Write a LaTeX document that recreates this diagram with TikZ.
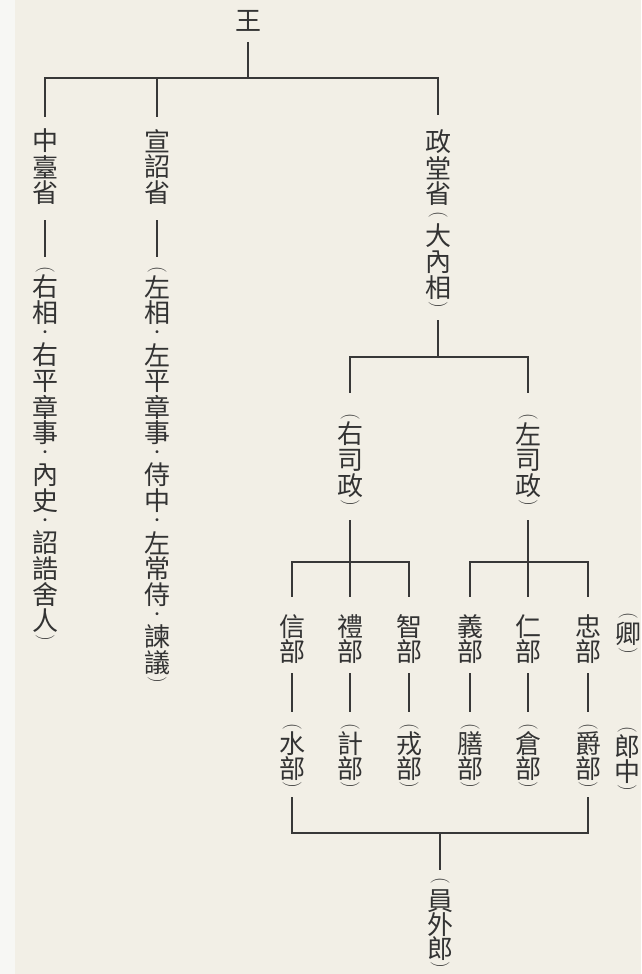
\documentclass[tikz,border=0pt]{standalone}
\usepackage{fontspec}
\newfontfamily\cjk{Noto Sans CJK TC}
\newdimen\slotc
\newcommand\Sl[2]{\hbox to 34pt{\hss\vbox to #1{\vss\hbox{#2}\vss}\hss}}
\newcommand\K[1]{\Sl{\slotc}{#1}}
\newcommand\Pn[1]{\rotatebox{-90}{\normalfont\fontsize{19pt}{19pt}\selectfont #1}}
\newcommand\Dt{\Sl{16pt}{\fontsize{14pt}{14pt}\selectfont ・}}
\newcommand\Ob{\Sl{8pt}{\Pn{(}}}
\newcommand\Obm{\Sl{16pt}{\Pn{(}}}
\newcommand\Cb{\Sl{8pt}{\Pn{)}}}
\newcommand\Vcol[2]{\vbox{\offinterlineskip\slotc=#1\relax #2}}
\definecolor{bg}{HTML}{F2EFE6}
\definecolor{bgl}{HTML}{F7F7F4}
\definecolor{txt}{HTML}{333333}
\definecolor{lnc}{HTML}{383838}
\tikzset{
  col/.style={inner sep=0pt, outer sep=0pt, anchor=north, text=txt,
    font=\cjk\fontsize{26pt}{26pt}\selectfont},
  ln/.style={draw=lnc, line width=1.8pt}
}
\begin{document}
\begin{tikzpicture}[x=1pt,y=-1pt]
\useasboundingbox (0,0) rectangle (641,974);
\fill[bg] (0,0) rectangle (641,974);
\fill[bgl] (0,0) rectangle (15,974);
% nodes
\node[col] (wang) at (248,8) {\Vcol{26pt}{\K{王}}};
\node[col] (zt) at (45,128) {\Vcol{26pt}{\K{中}\K{臺}\K{省}}};
\node[col] (zts) at (45,266) {\Vcol{26pt}{\Ob\K{右}\K{相}\Dt\K{右}\K{平}\K{章}\K{事}\Dt\K{內}\K{史}\Dt\K{詔}\K{誥}\K{舍}\K{人}\Cb}};
\node[col] (xz) at (157,128) {\Vcol{26pt}{\K{宣}\K{詔}\K{省}}};
\node[col] (xzs) at (157,266) {\Vcol{26pt}{\Ob\K{左}\K{相}\Dt\K{左}\K{平}\K{章}\K{事}\Dt\K{侍}\K{中}\Dt\K{左}\K{常}\K{侍}\Dt\K{諫}\K{議}\Cb}};
\node[col] (zd) at (438,129) {\Vcol{26pt}{\K{政}\K{堂}\K{省}\Obm\K{大}\K{內}\K{相}\Cb}};
\node[col] (ys) at (350,413) {\Vcol{26pt}{\Ob\K{右}\K{司}\K{政}\Cb}};
\node[col] (ls) at (528,413) {\Vcol{26pt}{\Ob\K{左}\K{司}\K{政}\Cb}};
\node[col] (xin) at (292,614) {\Vcol{25pt}{\K{信}\K{部}}};
\node[col] (li) at (350,614) {\Vcol{25pt}{\K{禮}\K{部}}};
\node[col] (zhi) at (409,614) {\Vcol{25pt}{\K{智}\K{部}}};
\node[col] (yi) at (470,614) {\Vcol{25pt}{\K{義}\K{部}}};
\node[col] (ren) at (528,614) {\Vcol{25pt}{\K{仁}\K{部}}};
\node[col] (zhong) at (588,614) {\Vcol{25pt}{\K{忠}\K{部}}};
\node[col] (qing) at (628,612) {\Vcol{27pt}{\Ob\K{卿}\Cb}};
\node[col] (shui) at (292,723) {\Vcol{25pt}{\Ob\K{水}\K{部}\Cb}};
\node[col] (ji) at (350,723) {\Vcol{25pt}{\Ob\K{計}\K{部}\Cb}};
\node[col] (rong) at (409,723) {\Vcol{25pt}{\Ob\K{戎}\K{部}\Cb}};
\node[col] (shan) at (470,723) {\Vcol{25pt}{\Ob\K{膳}\K{部}\Cb}};
\node[col] (cang) at (528,723) {\Vcol{25pt}{\Ob\K{倉}\K{部}\Cb}};
\node[col] (jue) at (588,723) {\Vcol{25pt}{\Ob\K{爵}\K{部}\Cb}};
\node[col] (lang) at (627,726) {\Vcol{25pt}{\Ob\K{郎}\K{中}\Cb}};
\node[col] (ywl) at (440,873) {\Vcol{24pt}{\Obm\K{員}\K{外}\K{郎}\Cb}};
% junctions
\coordinate (j1) at (248,78);
\coordinate (j2) at (438,357);
\coordinate (j3) at (350,562);
\coordinate (j4) at (528,562);
\coordinate (j5) at (440,833);
% connectors
\draw[ln, shorten <=8pt] (wang.south) -- (j1);
\draw[ln, shorten >=11pt] (j1) -| (zt.north);
\draw[ln, shorten >=11pt] (j1) -| (xz.north);
\draw[ln, shorten >=14pt] (j1) -| (zd.north);
\draw[ln, shorten <=14pt, shorten >=9pt] (zt.south) -- (zts.north);
\draw[ln, shorten <=14pt, shorten >=9pt] (xz.south) -- (xzs.north);
\draw[ln, shorten <=11pt] (zd.south) -- (j2);
\draw[ln, shorten >=20pt] (j2) -| (ys.north);
\draw[ln, shorten >=20pt] (j2) -| (ls.north);
\draw[ln, shorten <=13pt] (ys.south) -- (j3);
\draw[ln, shorten <=13pt] (ls.south) -- (j4);
\draw[ln, shorten >=17pt] (j3) -| (xin.north);
\draw[ln, shorten >=17pt] (j3) -- (li.north);
\draw[ln, shorten >=17pt] (j3) -| (zhi.north);
\draw[ln, shorten >=17pt] (j4) -| (yi.north);
\draw[ln, shorten >=17pt] (j4) -- (ren.north);
\draw[ln, shorten >=17pt] (j4) -| (zhong.north);
\foreach \a/\b in {xin/shui, li/ji, zhi/rong, yi/shan, ren/cang, zhong/jue}
  \draw[ln, shorten <=9pt, shorten >=11pt] (\a.south) -- (\b.north);
\draw[ln, shorten <=8pt] (shui.south) |- (j5);
\draw[ln, shorten <=8pt] (jue.south) |- (j5);
\draw[ln, shorten >=3pt] (j5) -- (ywl.north);
\end{tikzpicture}
\end{document}
